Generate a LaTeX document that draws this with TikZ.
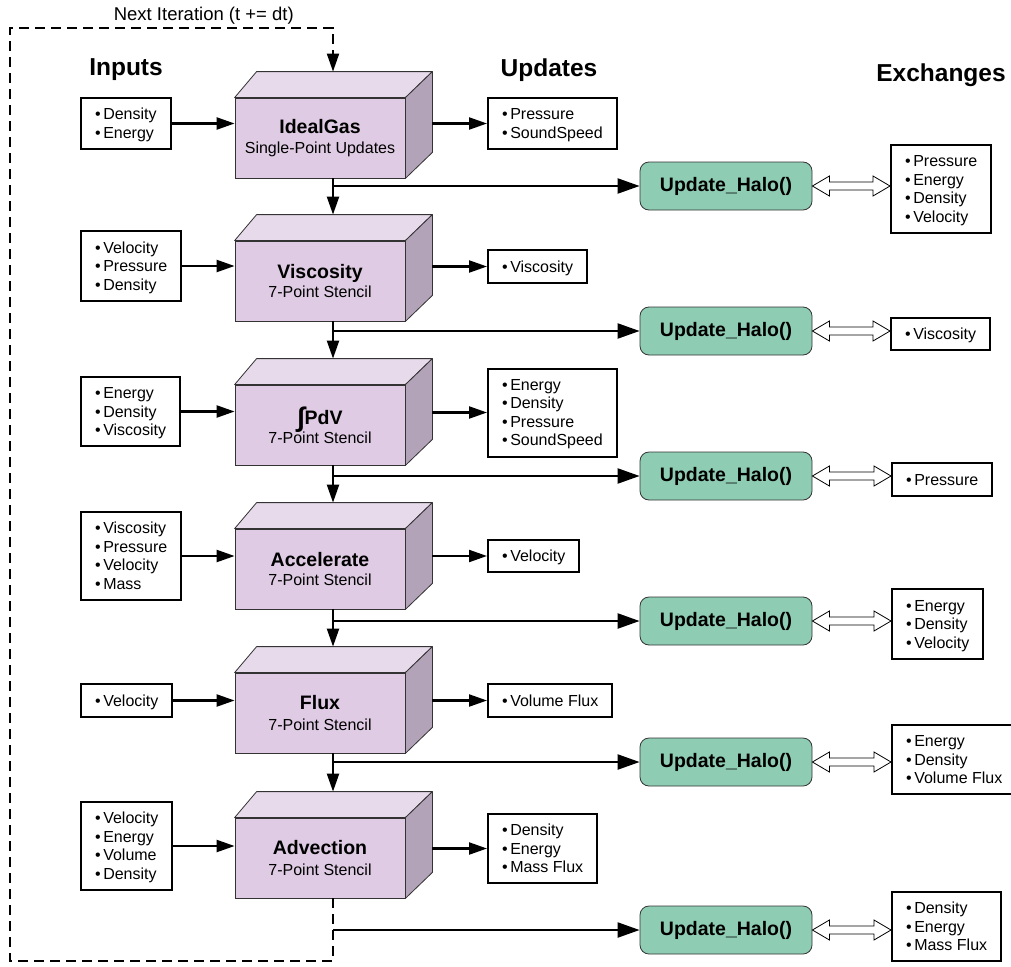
\documentclass[tikz,border=0pt]{standalone}
\usepackage{fontspec}
\setmainfont{Liberation Sans}
\usetikzlibrary{arrows.meta,calc}
\definecolor{cubefront}{HTML}{DFCBE3}
\definecolor{cubetop}{HTML}{E7DAEA}
\definecolor{cubeside}{HTML}{B3A3B8}
\definecolor{halofill}{HTML}{8ECDB4}
\definecolor{edgegrey}{HTML}{333333}
\newcommand{\itm}[1]{\rule[-3.6pt]{0pt}{18.5pt}\textbullet\,#1}
\newcommand{\ttl}[1]{{\fontsize{19.5}{22}\selectfont\bfseries #1}}
\newcommand{\intsign}{{\fontsize{27}{27}\selectfont\raisebox{-2pt}{∫}}}
\tikzset{
  >=Stealth,
  font=\fontsize{16}{18.5}\selectfont,
  box/.style={draw=black,line width=2pt,fill=white,inner xsep=14pt,inner ysep=7pt,
              align=left,anchor=west},
  cube/.style={draw=edgegrey,line width=0.8pt,fill=cubefront,minimum width=170pt,
               minimum height=80pt,inner sep=0pt,align=center},
  cubeedge/.style={draw=edgegrey,line width=0.8pt,line join=round},
  halo/.style={draw=edgegrey,line width=0.8pt,fill=halofill,rounded corners=9pt,
               minimum width=172pt,minimum height=48pt,
               font=\fontsize{19.5}{22}\selectfont\bfseries},
  head/.style={font=\fontsize{24.5}{28}\selectfont\bfseries},
  flow/.style={-{Triangle[length=18pt,width=12pt]},line width=2.2pt},
  haloflow/.style={-{Triangle[length=22pt,width=15pt]},line width=2.2pt},
  loopline/.style={line width=2pt,dash pattern=on 10pt off 6pt},
  xarrow/.style={draw=black,line width=0.8pt,fill=white,line join=miter},
  looplbl/.style={font=\fontsize{18.5}{21}\selectfont,inner sep=3pt},
}

\begin{document}
\begin{tikzpicture}[x=1pt,y=-1pt]
  \useasboundingbox (0,0) rectangle (1011,966);

  % column headings
  \node[head] (hin) at (126,70) {Inputs};
  \node[head] (hup) at (549,70) {Updates};
  \node[head] (hex) at (941,75) {Exchanges};

  % the six kernels
  \node[cube] (ig) at (320,138) {\ttl{IdealGas}\\[1pt]Single-Point Updates};
  \node[cube] (vis) at (320,281) {\ttl{Viscosity}\\[1pt]7-Point Stencil};
  \node[cube] (pdv) at (320,425) {\ttl{\intsign PdV}\\[-2pt]7-Point Stencil};
  \node[cube] (acc) at (320,569) {\ttl{Accelerate}\\[1pt]7-Point Stencil};
  \node[cube] (flux) at (320,713) {\ttl{Flux}\\[3pt]7-Point Stencil};
  \node[cube] (adv) at (320,858) {\ttl{Advection}\\[3pt]7-Point Stencil};

  % top and side faces of every kernel box
  \foreach \c in {ig,vis,pdv,acc,flux,adv} {
    \draw[cubeedge,fill=cubetop] (\c.north west) -- ++(22,-26)
      -- ([shift={(27,-26)}]\c.north east) -- (\c.north east) -- cycle;
    \draw[cubeedge,fill=cubeside] (\c.north east) -- ++(27,-26)
      -- ([shift={(27,-26)}]\c.south east) -- (\c.south east) -- cycle;
    \coordinate (\c-r) at ([xshift=27pt]\c.east);
    \coordinate (\c-b) at ([xshift=13pt]\c.south);
    \coordinate (\c-t) at ([shift={(13,-26)}]\c.north);
  }

  % inputs
  \node[box] (in1) at (80,123.5) {\itm{Density}\\\itm{Energy}};
  \node[box] (in2) at (80,266) {\itm{Velocity}\\\itm{Pressure}\\\itm{Density}};
  \node[box] (in3) at (80,411.5) {\itm{Energy}\\\itm{Density}\\\itm{Viscosity}};
  \node[box] (in4) at (80,556) {\itm{Viscosity}\\\itm{Pressure}\\\itm{Velocity}\\\itm{Mass}};
  \node[box] (in5) at (80,700.5) {\itm{Velocity}};
  \node[box] (in6) at (80,846) {\itm{Velocity}\\\itm{Energy}\\\itm{Volume}\\\itm{Density}};

  % updates
  \node[box] (up1) at (487,123.5) {\itm{Pressure}\\\itm{SoundSpeed}};
  \node[box] (up2) at (487,266.5) {\itm{Viscosity}};
  \node[box] (up3) at (487,412.5) {\itm{Energy}\\\itm{Density}\\\itm{Pressure}\\\itm{SoundSpeed}};
  \node[box] (up4) at (487,556) {\itm{Velocity}};
  \node[box] (up5) at (487,700.5) {\itm{Volume Flux}};
  \node[box] (up6) at (487,848.5) {\itm{Density}\\\itm{Energy}\\\itm{Mass Flux}};

  % halo exchanges
  \node[halo] (h1) at (726,186) {Update\_Halo()};
  \node[halo] (h2) at (726,331) {Update\_Halo()};
  \node[halo] (h3) at (726,476) {Update\_Halo()};
  \node[halo] (h4) at (726,621) {Update\_Halo()};
  \node[halo] (h5) at (726,762) {Update\_Halo()};
  \node[halo] (h6) at (726,930) {Update\_Halo()};

  \node[box] (ex1) at (890,189) {\itm{Pressure}\\\itm{Energy}\\\itm{Density}\\\itm{Velocity}};
  \node[box] (ex2) at (890,334) {\itm{Viscosity}};
  \node[box] (ex3) at (891,479.5) {\itm{Pressure}};
  \node[box] (ex4) at (891,624) {\itm{Energy}\\\itm{Density}\\\itm{Velocity}};
  \node[box] (ex5) at (891,759.5) {\itm{Energy}\\\itm{Density}\\\itm{Volume Flux}};
  \node[box] (ex6) at (891,926.5) {\itm{Density}\\\itm{Energy}\\\itm{Mass Flux}};

  % inputs in, updates out
  \draw[flow] (in1.east) -- (in1.east -| ig.west);
  \draw[flow] (in2.east) -- (in2.east -| vis.west);
  \draw[flow] (in3.east) -- (in3.east -| pdv.west);
  \draw[flow] (in4.east) -- (in4.east -| acc.west);
  \draw[flow] (in5.east) -- (in5.east -| flux.west);
  \draw[flow] (in6.east) -- (in6.east -| adv.west);
  \draw[flow] (ig-r |- up1.west) -- (up1.west);
  \draw[flow] (vis-r |- up2.west) -- (up2.west);
  \draw[flow] (pdv-r |- up3.west) -- (up3.west);
  \draw[flow] (acc-r |- up4.west) -- (up4.west);
  \draw[flow] (flux-r |- up5.west) -- (up5.west);
  \draw[flow] (adv-r |- up6.west) -- (up6.west);

  % kernel to kernel
  \draw[flow] (ig-b) -- (vis-t);
  \draw[flow] (vis-b) -- (pdv-t);
  \draw[flow] (pdv-b) -- (acc-t);
  \draw[flow] (acc-b) -- (flux-t);
  \draw[flow] (flux-b) -- (adv-t);

  % branch off to the halo updates
  \draw[haloflow] (ig-b |- h1.west) -- (h1.west);
  \draw[haloflow] (vis-b |- h2.west) -- (h2.west);
  \draw[haloflow] (pdv-b |- h3.west) -- (h3.west);
  \draw[haloflow] (acc-b |- h4.west) -- (h4.west);
  \draw[haloflow] (flux-b |- h5.west) -- (h5.west);
  \draw[haloflow] (adv-b |- h6.west) -- (h6.west);

  % two-way exchange arrows
  \foreach \h/\e in {h1/ex1,h2/ex2,h3/ex3,h4/ex4,h5/ex5,h6/ex6}
    \draw[xarrow] let \p1=(\h.east), \p2=(\e.west) in
      (\x1,\y1) -- (\x1+17pt,\y1+10pt) -- (\x1+17pt,\y1+4pt) -- (\x2-17pt,\y1+4pt)
      -- (\x2-17pt,\y1+10pt) -- (\x2,\y1) -- (\x2-17pt,\y1-10pt) -- (\x2-17pt,\y1-4pt)
      -- (\x1+17pt,\y1-4pt) -- (\x1+17pt,\y1-10pt) -- cycle;

  % back round for the next time step
  \coordinate (loop-bl) at (10,961);
  \coordinate (loop-tl) at (10,28);
  \draw[loopline,-{Triangle[length=18pt,width=12pt]}] (adv-b) |- (loop-bl) -- (loop-tl)
    -| node[looplbl,pos=0.3,above] (nextlbl) {Next Iteration (t += dt)} (ig-t);
\end{tikzpicture}
\end{document}
